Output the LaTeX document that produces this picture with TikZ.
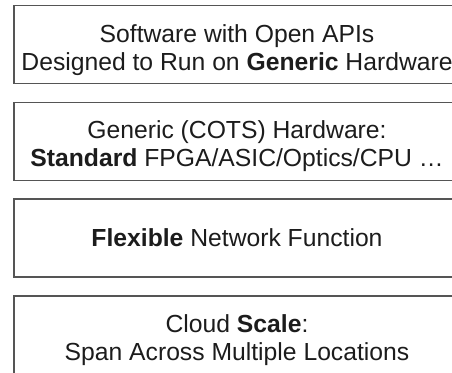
\documentclass[tikz,border=0pt]{standalone}
\usepackage{fontspec}
\setmainfont{Liberation Sans}
\definecolor{framegray}{HTML}{555555}
\definecolor{inkdark}{HTML}{1C1C1C}
\begin{document}
\begin{tikzpicture}[x=1pt,y=-1pt,
  layerbox/.style={draw=framegray, line width=1.4pt, rectangle, inner sep=0pt,
    minimum width=446pt, minimum height=78pt},
  layertext/.style={text=inkdark, align=center, inner sep=0pt,
    font=\fontsize{24.7}{27.5}\selectfont}]
  \useasboundingbox (0,0) rectangle (452,372);
  \clip (0,0) rectangle (452,372);

  % stacked layer frames (right side runs past the page edge)
  \node[layerbox] (soft)  at (237,44.2)  {};
  \node[layerbox] (hw)    at (237,141.7) {};
  \node[layerbox] (func)  at (237,238)   {};
  \node[layerbox] (cloud) at (237,335)   {};

  % layer captions
  \node[layertext] (softtxt)  at ([yshift=-6pt]soft.center)
    {Software with Open APIs\\Designed to Run on \textbf{Generic} Hardware};
  \node[layertext] (hwtxt)    at ([yshift=-4.5pt]hw.center)
    {Generic (COTS) Hardware:\\\textbf{Standard} FPGA/ASIC/Optics/CPU \dots};
  \node[layertext] (functxt)  at ([yshift=0pt]func.center)
    {\textbf{Flexible} Network Function};
  \node[layertext] (cloudtxt) at ([yshift=-5pt]cloud.center)
    {Cloud \textbf{Scale}:\\Span Across Multiple Locations};
\end{tikzpicture}
\end{document}
